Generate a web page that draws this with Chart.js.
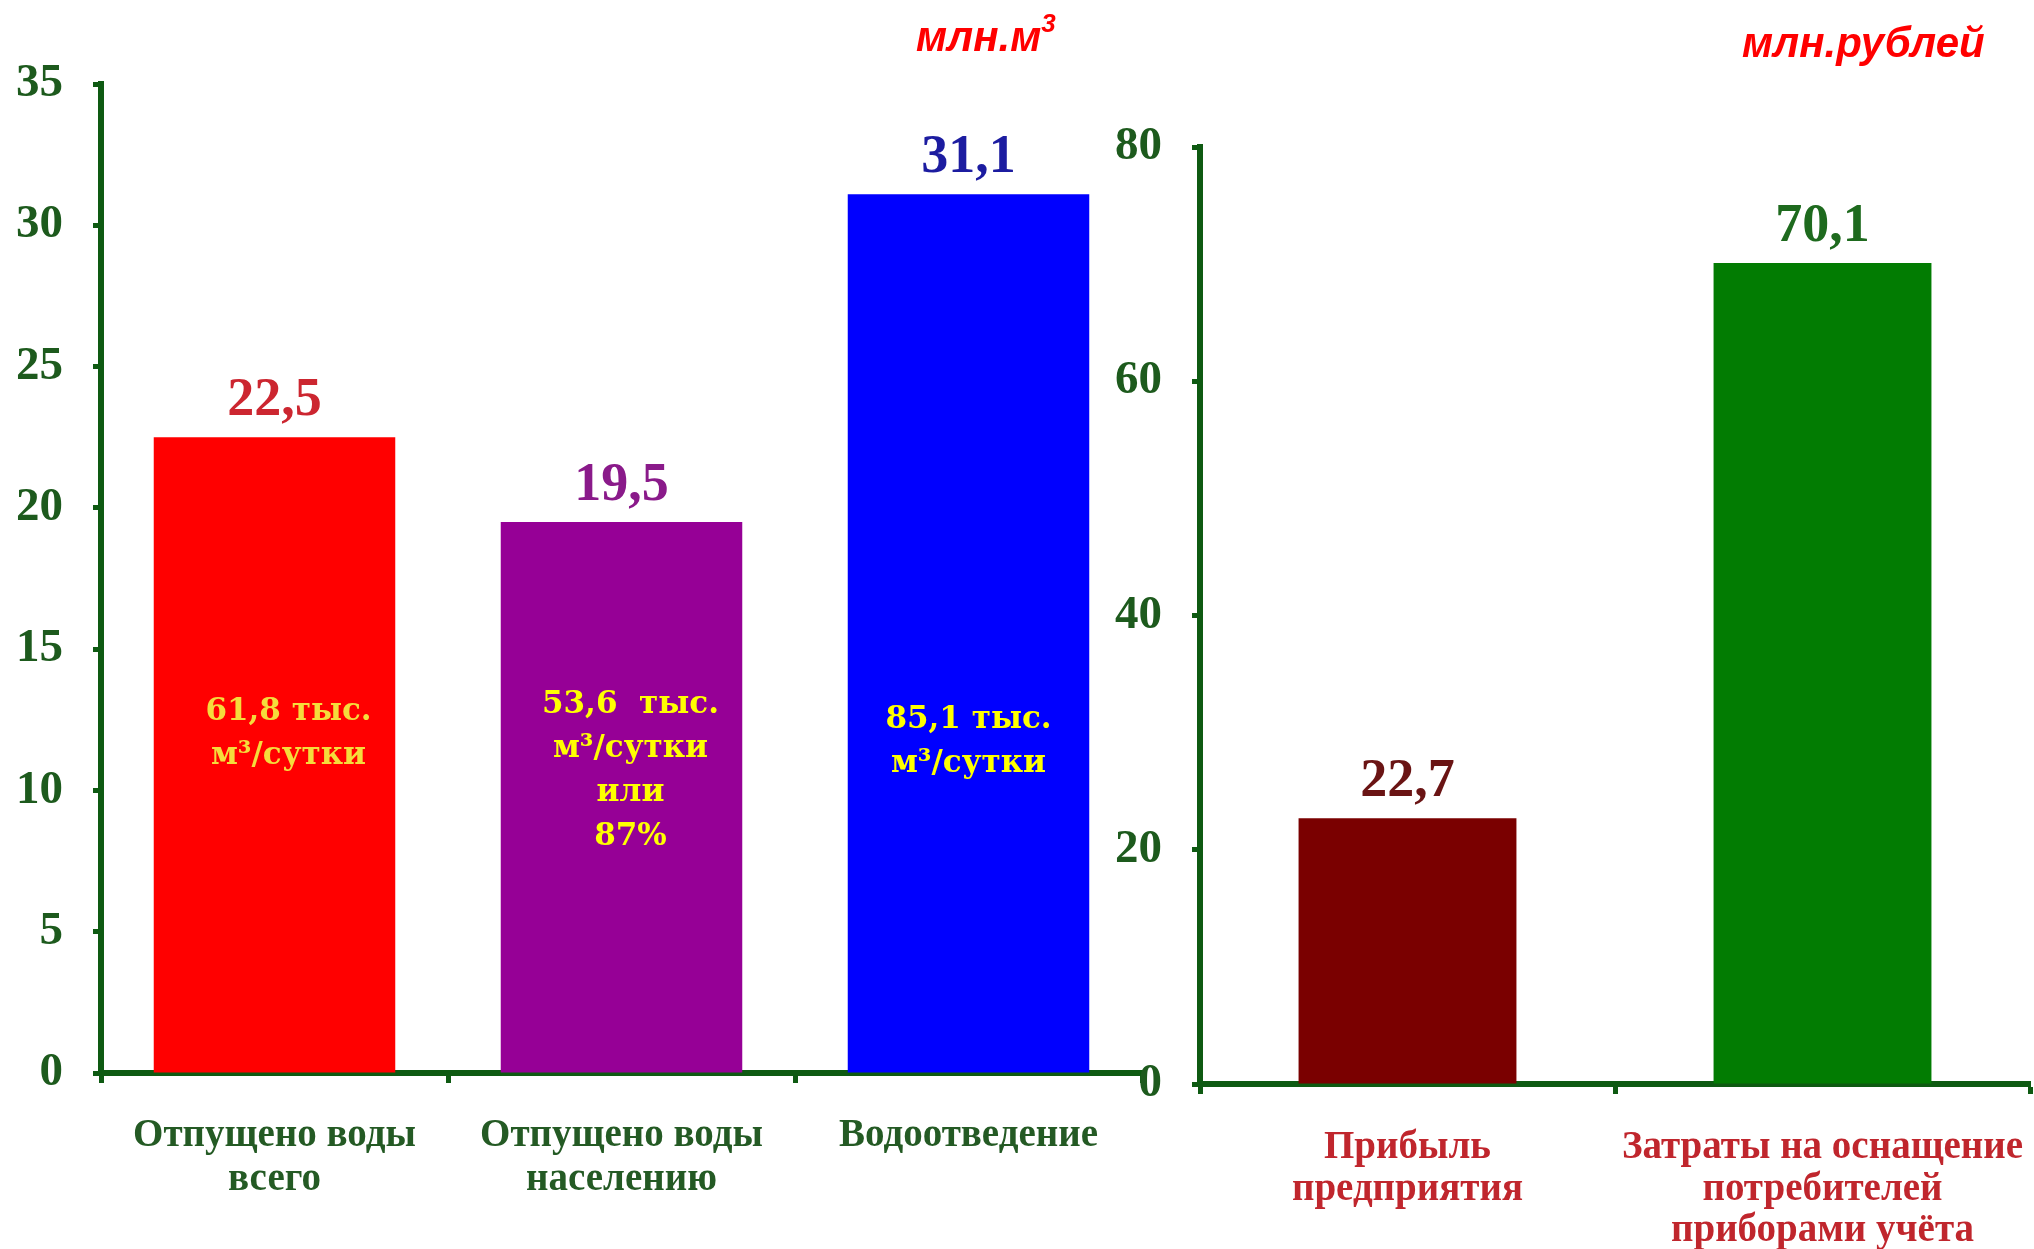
<!DOCTYPE html>
<html>
<head>
<meta charset="utf-8">
<script src="https://cdn.jsdelivr.net/npm/chart.js@4"></script>
<style>
  html, body { margin: 0; padding: 0; background: #ffffff; }
  body { width: 2034px; height: 1249px; position: relative; overflow: hidden; }
  canvas { position: absolute; top: 0; }
  #cWater { left: 0; }
  #cMoney { left: 1100px; }
  .unit { position: absolute; color: #ff0000; font-family: "Liberation Sans", Arial, sans-serif;
          font-weight: bold; font-style: italic; font-size: 42px; line-height: 1; white-space: nowrap; }
  .unit sup { font-size: 26px; position: relative; top: -4px; }
</style>
</head>
<body>
<canvas id="cWater" width="1150" height="1249"></canvas>
<canvas id="cMoney" width="934" height="1249"></canvas>
<div class="unit" id="u1" style="left:916px; top:14px;">млн.м<sup>3</sup></div>
<div class="unit" id="u2" style="left:1742px; top:22px;">млн.рублей</div>
<script>
// ---- data ----
const waterCategories = [['Отпущено воды', 'всего'], ['Отпущено воды', 'населению'], ['Водоотведение']];
const waterValues = [22.5, 19.5, 31.1];
const waterNotes = [['61,8 тыс.', 'м³/сутки'], ['53,6  тыс.', 'м³/сутки', 'или', '87%'], ['85,1 тыс.', 'м³/сутки']];
const waterAxisMax = 35;
const waterAxisStep = 5;

const moneyCategories = [['Прибыль', 'предприятия'], ['Затраты на оснащение', 'потребителей', 'приборами учёта']];
const moneyValues = [22.7, 70.1];
const moneyAxisMax = 80;
const moneyAxisStep = 20;

// ---- styles ----
const axisGreen = '#0e5a12';
const tickTextGreen = '#1d5a1d';
const waterBarColors = ['#ff0000', '#960096', '#0000ff'];
const waterValueColors = ['#cc2630', '#8a1a8a', '#1c1ca0'];
const moneyBarColors = ['#7a0000', '#027c02'];
const moneyValueColors = ['#6a1414', '#1e6a1e'];
const serif = '"Liberation Serif", "Times New Roman", serif';

const barLabels = {
  id: 'barLabels',
  afterDatasetsDraw(chart, args, opts) {
    const ctx = chart.ctx;
    const meta = chart.getDatasetMeta(0);
    const ds = chart.data.datasets[0];
    const yScale = chart.scales.y;
    meta.data.forEach((bar, i) => {
      const v = ds.data[i];
      ctx.save();
      ctx.font = 'bold 54px ' + serif;
      ctx.fillStyle = opts.valueColors[i];
      ctx.textAlign = 'center';
      ctx.textBaseline = 'alphabetic';
      ctx.fillText(v.toFixed(1).replace('.', ','), bar.x, bar.y - 22);
      if (opts.notes && opts.notes[i]) {
        const lines = opts.notes[i];
        const lh = 44;
        const cy = yScale.getPixelForValue(opts.noteAnchors[i]);
        const y0 = cy - (lines.length - 1) * lh / 2;
        ctx.font = 'bold 31px "DejaVu Serif", serif';
        ctx.fillStyle = opts.noteColors[i];
        ctx.textBaseline = 'middle';
        lines.forEach((ln, k) => {
          ctx.fillText(ln, bar.x + opts.noteShift[i], y0 + k * lh);
        });
      }
      ctx.restore();
    });
  }
};

function makeChart(id, cats, vals, colors, valueColors, max, step, geom, xLabelColor, barPct, notes) {
  return new Chart(document.getElementById(id), {
    type: 'bar',
    data: {
      labels: cats,
      datasets: [{ data: vals, backgroundColor: colors, borderWidth: 0,
                   barPercentage: barPct, categoryPercentage: 1.0 }]
    },
    plugins: [barLabels],
    options: {
      responsive: false,
      animation: false,
      events: [],
      layout: { padding: { top: geom.top, left: 0, right: geom.right, bottom: 0 } },
      plugins: {
        legend: { display: false },
        tooltip: { enabled: false },
        barLabels: notes ? Object.assign({ valueColors }, notes) : { valueColors }
      },
      scales: {
        x: {
          offset: true,
          grid: { display: true, offset: true, drawOnChartArea: false, drawTicks: true,
                  tickLength: 10, tickWidth: 5, tickColor: axisGreen },
          border: { display: true, color: axisGreen, width: 6 },
          ticks: { color: xLabelColor, padding: geom.xPad, maxRotation: 0, minRotation: 0, autoSkip: false,
                   font: { family: serif, weight: 'bold', size: geom.xSize, lineHeight: geom.xLh } },
          afterFit(scale) { scale.height = geom.xHeight; scale.paddingLeft = 0; scale.paddingRight = 0; }
        },
        y: {
          min: 0, max: max,
          grid: { display: true, drawOnChartArea: false, drawTicks: true,
                  tickLength: 8, tickWidth: 5, tickColor: axisGreen },
          border: { display: true, color: axisGreen, width: 6 },
          ticks: { stepSize: step, color: tickTextGreen, padding: 30,
                   font: { family: serif, weight: 'bold', size: 47 } },
          afterFit(scale) { scale.width = geom.yWidth; }
        }
      }
    }
  });
}

makeChart('cWater', waterCategories, waterValues, waterBarColors, waterValueColors,
  waterAxisMax, waterAxisStep,
  { top: 84, right: 8, xHeight: 176, yWidth: 101, xPad: 30, xLh: 1.15, xSize: 39 },
  '#245a24', 0.696,
  { notes: waterNotes, noteAnchors: [12.0, 10.7, 11.7], noteShift: [14, 9, 0],
    noteColors: ['#f5dc3c', '#ffff00', '#ffff00'] });

makeChart('cMoney', moneyCategories, moneyValues, moneyBarColors, moneyValueColors,
  moneyAxisMax, moneyAxisStep,
  { top: 147, right: 4, xHeight: 165, yWidth: 100, xPad: 33, xLh: 1.07, xSize: 39 },
  '#c0262d', 0.525, null);
</script>
</body>
</html>
